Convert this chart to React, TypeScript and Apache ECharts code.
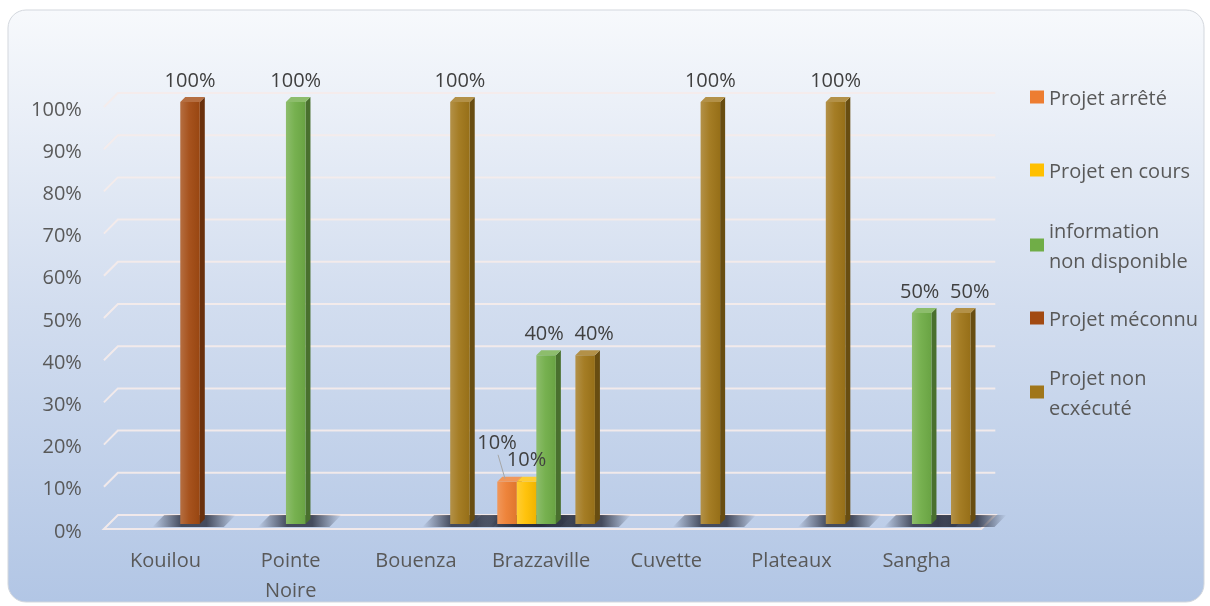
import React, { useEffect, useRef } from 'react';
import * as echarts from 'echarts';

const categories = ['Kouilou', 'Pointe Noire', 'Bouenza', 'Brazzaville', 'Cuvette', 'Plateaux', 'Sangha'];
const seriesNames = ['Projet arrêté', 'Projet en cours', 'information non disponible', 'Projet méconnu', 'Projet non ecxécuté'];
const legendLabels = ['Projet arrêté', 'Projet en cours', 'information\nnon disponible', 'Projet méconnu', 'Projet non\necxécuté'];
const projetArrete = [null, null, null, 10, null, null, null];
const projetEnCours = [null, null, null, 10, null, null, null];
const informationNonDisponible = [null, 100, null, 40, null, null, 50];
const projetMeconnu = [100, null, null, null, null, null, null];
const projetNonExecute = [null, null, 100, 40, 100, 100, 50];
const yTicks = [0, 10, 20, 30, 40, 50, 60, 70, 80, 90, 100];
const colors = ['#ED7D31', '#FFC000', '#70AD47', '#A24A12', '#A0761A'];

const allValues = [projetArrete, projetEnCours, informationNonDisponible, projetMeconnu, projetNonExecute];
const FONT = '"Open Sans", "Noto Sans", sans-serif';

function mix(hex: string, target: number, t: number) {
  const n = parseInt(hex.slice(1), 16);
  const r = (n >> 16) & 255, g = (n >> 8) & 255, b = n & 255;
  const f = (c: number) => Math.round(c + (target - c) * t);
  return `rgb(${f(r)},${f(g)},${f(b)})`;
}

const DEPTH = 5;
const SLOT = 0.156;

function slotX(api: any, c: number, i: number) {
  const p = api.coord([c, 0]);
  const w = api.size([1, 0])[0] * SLOT;
  return { x: p[0] + (i - 2) * w - w / 2, w, y0: p[1] };
}

function barSeries(i: number) {
  const base = colors[i];
  return {
    type: 'custom',
    name: seriesNames[i],
    coordinateSystem: 'cartesian2d',
    z: 5,
    itemStyle: { color: base },
    encode: { x: 0, y: 1 },
    data: allValues[i].map((v, c) => (v == null ? null : [c, v])).filter((d) => d !== null),
    renderItem: (params: any, api: any) => {
      const c = api.value(0);
      const v = api.value(1);
      const yT = api.coord([c, v])[1];
      const { x, w, y0 } = slotX(api, c, i);
      return {
        type: 'group',
        children: [
          {
            type: 'polygon',
            shape: { points: [[x + w, yT], [x + w + DEPTH, yT - DEPTH], [x + w + DEPTH, y0 - DEPTH], [x + w, y0]] },
            style: { fill: mix(base, 0, 0.35) },
          },
          {
            type: 'rect',
            shape: { x, y: yT, width: w, height: y0 - yT },
            style: {
              fill: new echarts.graphic.LinearGradient(0, 0, 1, 0, [
                { offset: 0, color: mix(base, 255, 0.2) },
                { offset: 0.45, color: mix(base, 255, 0.05) },
                { offset: 1, color: mix(base, 0, 0.06) },
              ]),
            },
          },
          {
            type: 'polygon',
            shape: { points: [[x, yT], [x + DEPTH, yT - DEPTH], [x + w + DEPTH, yT - DEPTH], [x + w, yT]] },
            style: { fill: mix(base, 255, 0.2) },
          },
        ],
      };
    },
  };
}

const pointData: number[][] = [];
allValues.forEach((arr, i) => arr.forEach((v, c) => { if (v != null) pointData.push([c, v, i]); }));

export default function App() {
  const ref = useRef<HTMLDivElement>(null);
  useEffect(() => {
    if (!ref.current) return;
    const chart = echarts.init(ref.current, null, { renderer: 'svg' });
    const legendTops = [82, 155, 200, 303, 347];
    const option: any = {
      animation: false,
      textStyle: { fontFamily: FONT },
      graphic: [
        {
          type: 'rect',
          z: -10,
          silent: true,
          shape: { x: 8, y: 10, width: 1196, height: 592, r: 18 },
          style: {
            fill: new echarts.graphic.LinearGradient(0, 0, 0, 1, [
              { offset: 0, color: '#F7F9FC' },
              { offset: 0.5, color: '#D2DDEF' },
              { offset: 1, color: '#B2C6E5' },
            ]),
            stroke: '#D3D7DD',
            lineWidth: 1,
          },
        },
      ],
      grid: { left: 107.9, right: 225.7, top: 102, bottom: 82, containLabel: false },
      xAxis: {
        type: 'category',
        data: categories,
        axisLine: { show: false },
        axisTick: { show: false },
        splitLine: { show: false },
        axisLabel: {
          interval: 0,
          color: '#595959',
          fontSize: 20,
          fontFamily: FONT,
          margin: 20,
          lineHeight: 30,
          padding: [0, 10, 0, 0],
          formatter: (v: string) => v.replace(' ', '\n'),
        },
      },
      yAxis: {
        type: 'value',
        min: 0,
        max: 100,
        interval: 10,
        axisLine: { show: false },
        axisTick: { show: false },
        splitLine: { show: false },
        axisLabel: {
          color: '#595959',
          fontSize: 20,
          fontFamily: FONT,
          margin: 26,
          verticalAlign: 'top',
          lineHeight: 12,
          formatter: '{value}%',
        },
      },
      legend: seriesNames.map((n, i) => ({
        data: [n],
        orient: 'vertical',
        left: 1030,
        top: legendTops[i],
        padding: 0,
        icon: 'rect',
        itemWidth: 14,
        itemHeight: 13,
        formatter: () => legendLabels[i],
        textStyle: {
          fontFamily: FONT,
          fontSize: 20,
          color: '#595959',
          lineHeight: 30,
          padding: legendLabels[i].includes('\n') ? [30, 0, 0, 0] : 0,
        },
      })),
      series: [
        {
          type: 'custom',
          name: 'grid3d',
          coordinateSystem: 'cartesian2d',
          silent: true,
          z: 1,
          data: yTicks.map((v) => [0, v]),
          encode: { x: 0, y: 1 },
          renderItem: (params: any, api: any) => {
            const v = api.value(1);
            const y = api.coord([0, v])[1];
            const L = params.coordSys.x;
            const R = params.coordSys.x + params.coordSys.width;
            const stroke = 'rgba(245,236,234,0.92)';
            if (v === 0) {
              return {
                type: 'polygon',
                shape: { points: [[L - 4, y + 5], [L + 10, y - 9], [R + 11, y - 9], [R - 3, y + 5]] },
                style: { fill: 'rgba(255,255,255,0.05)', stroke, lineWidth: 2 },
              };
            }
            return {
              type: 'polyline',
              shape: { points: [[L - 4, y + 5], [L + 10, y - 9], [R + 11, y - 9]] },
              style: { fill: 'none', stroke, lineWidth: 2 },
            };
          },
        },
        {
          type: 'custom',
          name: 'shadow3d',
          coordinateSystem: 'cartesian2d',
          silent: true,
          z: 2,
          data: pointData,
          encode: { x: 0, y: 1 },
          renderItem: (params: any, api: any) => {
            const { x, w, y0 } = slotX(api, api.value(0), api.value(2));
            return {
              type: 'polygon',
              shape: { points: [[x - 28, y0 + 3], [x - 16, y0 - 9], [x + w + 36, y0 - 9], [x + w + 24, y0 + 3]] },
              style: {
                fill: new echarts.graphic.LinearGradient(0, 0, 1, 0, [
                  { offset: 0, color: 'rgba(38,42,58,0)' },
                  { offset: 0.35, color: 'rgba(38,42,58,0.8)' },
                  { offset: 0.65, color: 'rgba(38,42,58,0.8)' },
                  { offset: 1, color: 'rgba(38,42,58,0)' },
                ]),
              },
            };
          },
        },
        ...seriesNames.map((_, i) => barSeries(i)),
        {
          type: 'custom',
          name: 'labels3d',
          coordinateSystem: 'cartesian2d',
          silent: true,
          z: 10,
          data: pointData,
          encode: { x: 0, y: 1 },
          renderItem: (params: any, api: any) => {
            const c = api.value(0);
            const v = api.value(1);
            const i = api.value(2);
            const yT = api.coord([c, v])[1];
            const { x, w } = slotX(api, c, i);
            const cx = x + w / 2;
            const font = `20px ${FONT}`;
            if (i === 0) {
              return {
                type: 'group',
                children: [
                  { type: 'line', shape: { x1: cx - 2, y1: yT - 3, x2: cx - 9, y2: yT - 27 }, style: { stroke: '#A6A6A6', lineWidth: 1 } },
                  { type: 'text', style: { text: v + '%', x: cx - 10, y: yT - 40, align: 'center', verticalAlign: 'middle', fill: '#404040', font } },
                ],
              };
            }
            const crowded = i === 4 && informationNonDisponible[c] != null;
            const nudge = crowded ? 9 : i === 2 && projetNonExecute[c] != null ? -2 : 0;
            return {
              type: 'text',
              style: { text: v + '%', x: cx + nudge, y: yT - 23, align: 'center', verticalAlign: 'middle', fill: '#404040', font },
            };
          },
        },
      ],
    };
    chart.setOption(option);
    return () => chart.dispose();
  }, []);
  return <div ref={ref} style={{ position: 'fixed', left: 0, top: 0, width: 1210, height: 606 }} />;
}
